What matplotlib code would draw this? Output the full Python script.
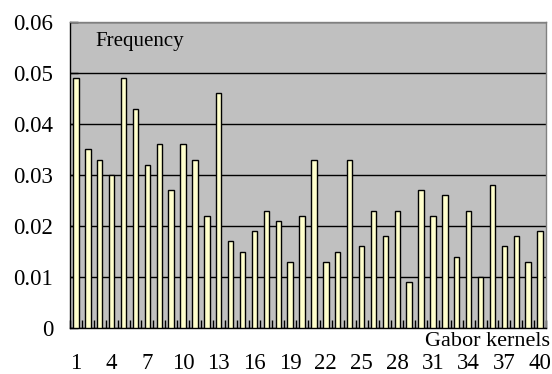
import numpy as np
import matplotlib
matplotlib.use('Agg')
from matplotlib import pyplot as plt

kernels = np.arange(1, 41)
freq = [0.049, 0.035, 0.033, 0.030, 0.049, 0.043, 0.032, 0.036, 0.027, 0.036,
        0.033, 0.022, 0.046, 0.017, 0.015, 0.019, 0.023, 0.021, 0.013, 0.022,
        0.033, 0.013, 0.015, 0.033, 0.016, 0.023, 0.018, 0.023, 0.009, 0.027,
        0.022, 0.026, 0.014, 0.023, 0.010, 0.028, 0.016, 0.018, 0.013, 0.019]
yticks = [0, 0.01, 0.02, 0.03, 0.04, 0.05, 0.06]
ytick_labels = ['0', '0.01', '0.02', '0.03', '0.04', '0.05', '0.06']
xtick_pos = list(range(1, 41, 3))

plt.rcParams['font.family'] = ['Liberation Serif', 'DejaVu Serif']

fig = plt.figure(figsize=(5.52, 3.74), dpi=100)
ax = fig.add_axes([70/552, 1-328/374, 476/552, 306/374])
ax.set_facecolor('#C0C0C0')

ax.set_axisbelow(True)
ax.yaxis.grid(True, color='black', linewidth=1)
ax.bar(kernels, freq, width=0.45, color='#FFFFCC', edgecolor='black', linewidth=1, zorder=3)

ax.set_xlim(0.5, 40.5)
ax.set_ylim(0, 0.06)
ax.set_yticks(yticks)
ax.set_yticklabels(ytick_labels)
ax.set_xticks(xtick_pos)
ax.set_xticklabels([str(k) for k in xtick_pos])
ax.set_xticks(np.arange(0.5, 41, 1), minor=True)

ax.tick_params(axis='y', direction='in', length=6, width=1, pad=12, labelsize=16.5, colors='black')
ax.tick_params(axis='x', which='major', length=0, pad=18, labelsize=16.5)
ax.tick_params(axis='x', which='minor', direction='in', length=6, width=1)

for s in ['left', 'bottom']:
    ax.spines[s].set_color('black')
    ax.spines[s].set_linewidth(1)
for s in ['top', 'right']:
    ax.spines[s].set_color('#808080')
    ax.spines[s].set_linewidth(1)

ax.text(0.0525, 0.935, 'Frequency', transform=ax.transAxes, fontsize=15, va='center', ha='left')
fig.text(550/552, 1-341/374, 'Gabor kernels', fontsize=16, va='center', ha='right')

plt.savefig('out.png', dpi=100)
